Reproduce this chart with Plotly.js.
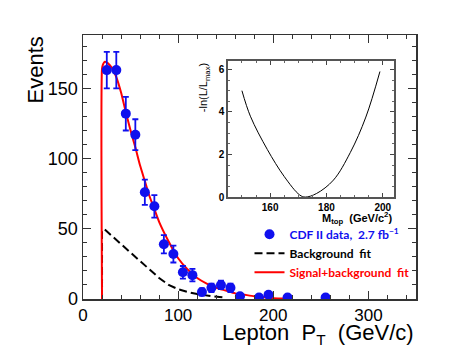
<!DOCTYPE html>
<html>
<head>
<meta charset="utf-8">
<script src="https://cdn.plot.ly/plotly-3.0.1.min.js"></script>
<style>
  html, body { margin: 0; padding: 0; background: #fff; }
  #chart { width: 472px; height: 354px; }
</style>
</head>
<body>
<div id="chart"></div>
<script>
// CDF II lepton pT spectrum, 2.7 fb-1
const ptX = [25, 35, 45, 55, 65, 75, 85, 95, 105, 115, 125, 135, 145, 155, 165, 185, 195, 215, 255];
const ptY = [163, 163, 132, 117, 76, 66, 39, 32, 19, 17, 5, 8, 10, 8, 2, 1, 3, 1, 1];
const ptErr = [13, 13, 12, 11, 9, 8, 6.5, 6, 4.5, 4.5, 2.5, 3, 3, 3, 1.5, 1, 1.5, 1, 1];

// signal + background fit
const fitX = [20, 20, 21, 23, 26, 30, 35, 40, 45, 50, 55, 60, 65, 70, 75, 80, 90, 100, 110, 120, 130, 140, 150, 160, 170, 180, 190, 200, 215];
const fitY = [0, 164, 167, 169, 168, 165, 158, 147, 133, 120, 108, 95, 84, 73, 64, 55, 41, 29, 21, 15, 11, 8, 6, 4, 3, 2, 1.2, 0.6, 0.3];

// background only fit
const bgX = [20, 20, 22, 30, 40, 50, 60, 70, 80, 90, 100, 110, 120, 135, 150];
const bgY = [0, 48, 50, 45, 39, 33, 27, 21, 15, 10, 7, 5, 3.5, 2, 1];

// inset: -ln(L/Lmax) vs Mtop
const mTop = [150, 153, 159, 165, 170.5, 172.5, 176.5, 182.5, 188.5, 194, 199];
const nll = [5.0, 3.8, 2.24, 0.97, 0.1, 0, 0.17, 0.8, 2.1, 3.76, 5.9];

const axisCol = '#333';

const data = [
  {
    x: bgX, y: bgY, type: 'scatter', mode: 'lines',
    name: 'Background  fit', legendrank: 2,
    line: { color: '#000', width: 2, dash: '8px,4px' }
  },
  {
    x: fitX, y: fitY, type: 'scatter', mode: 'lines', line: { color: '#ff0000', width: 2, shape: 'spline', smoothing: 0.6 },
    name: '<span style="color:#ff0000">Signal+background  fit</span>', legendrank: 3
  },
  {
    x: ptX, y: ptY, type: 'scatter', mode: 'markers',
    name: '<span style="color:#1010ee">CDF II data,  2.7 fb<sup>−1</sup></span>', legendrank: 1,
    marker: { color: '#1010ee', size: 10 },
    error_y: { type: 'data', array: ptErr, visible: true, color: '#1010ee', thickness: 1.8, width: 3 }
  },
  {
    x: mTop, y: nll, xaxis: 'x2', yaxis: 'y2', type: 'scatter', mode: 'lines',
    line: { color: '#000', width: 1, shape: 'spline' }, showlegend: false
  }
];

const layout = {
  width: 472, height: 354,
  margin: { l: 83, r: 56, t: 35, b: 55 },
  paper_bgcolor: '#fff', plot_bgcolor: '#fff',
  font: { family: 'Liberation Sans, Arial, sans-serif', color: '#000' },
  showlegend: true,
  legend: {
    x: 0.5, y: 0.3, xanchor: 'left', yanchor: 'top',
    bgcolor: 'rgba(0,0,0,0)', itemwidth: 30,
    font: { family: 'Lato, sans-serif', size: 12, weight: 'bold', color: '#000' }
  },
  xaxis: {
    range: [0, 350], dtick: 100, showgrid: false, zeroline: false,
    ticks: 'inside', ticklen: 8, tickcolor: axisCol, mirror: 'allticks',
    showline: true, linecolor: axisCol, linewidth: 1.5,
    minor: { dtick: 20, ticks: 'inside', ticklen: 4, tickcolor: axisCol, showgrid: false },
    tickfont: { size: 17 }
  },
  yaxis: {
    range: [0, 188], dtick: 50, showgrid: false, zeroline: false,
    ticks: 'inside', ticklen: 8, tickcolor: axisCol, mirror: 'allticks',
    showline: true, linecolor: axisCol, linewidth: 1.5,
    minor: { dtick: 10, ticks: 'inside', ticklen: 4, tickcolor: axisCol, showgrid: false },
    tickfont: { size: 18 }
  },
  xaxis2: {
    domain: [0.435, 0.934], anchor: 'y2', range: [145, 204], dtick: 20,
    showgrid: false, zeroline: false, ticks: 'inside', ticklen: 4, tickcolor: '#444',
    mirror: 'allticks', showline: true, linecolor: '#555', linewidth: 1.5,
    minor: { dtick: 5, ticks: 'inside', ticklen: 2, tickcolor: '#666', showgrid: false },
    tickfont: { size: 10, weight: 'bold' }
  },
  yaxis2: {
    domain: [0.386, 0.902], anchor: 'x2', range: [0, 6.4], dtick: 2,
    showgrid: false, zeroline: false, ticks: 'inside', ticklen: 4, tickcolor: '#444',
    mirror: 'allticks', showline: true, linecolor: '#555', linewidth: 1.5,
    minor: { dtick: 0.5, ticks: 'inside', ticklen: 2, tickcolor: '#666', showgrid: false },
    tickfont: { size: 10, weight: 'bold' }
  },
  annotations: [
    { text: 'Events', xref: 'paper', yref: 'paper', x: 0, y: 1, xanchor: 'center', yanchor: 'top',
      xshift: -48, textangle: -90, showarrow: false, font: { size: 22 } },
    { text: 'Lepton  P<sub>T</sub>  (GeV/c)', xref: 'paper', yref: 'paper', x: 1, y: 0,
      xanchor: 'right', yanchor: 'middle', yshift: -35, showarrow: false, font: { size: 22 } },
    { text: '-ln(L/L<sub>max</sub>)', xref: 'paper', yref: 'paper', x: 0.435, y: 0.902,
      xanchor: 'center', yanchor: 'top', xshift: -23, textangle: -90, showarrow: false,
      font: { size: 11 } },
    { text: 'M<sub>top</sub>  (GeV/c<sup>2</sup>)', xref: 'paper', yref: 'paper', x: 0.934, y: 0.386,
      xanchor: 'right', yanchor: 'middle', yshift: -21, showarrow: false,
      font: { size: 11, weight: 'bold' } }
  ]
};

Plotly.newPlot('chart', data, layout, { displayModeBar: false, staticPlot: true });
</script>
</body>
</html>
